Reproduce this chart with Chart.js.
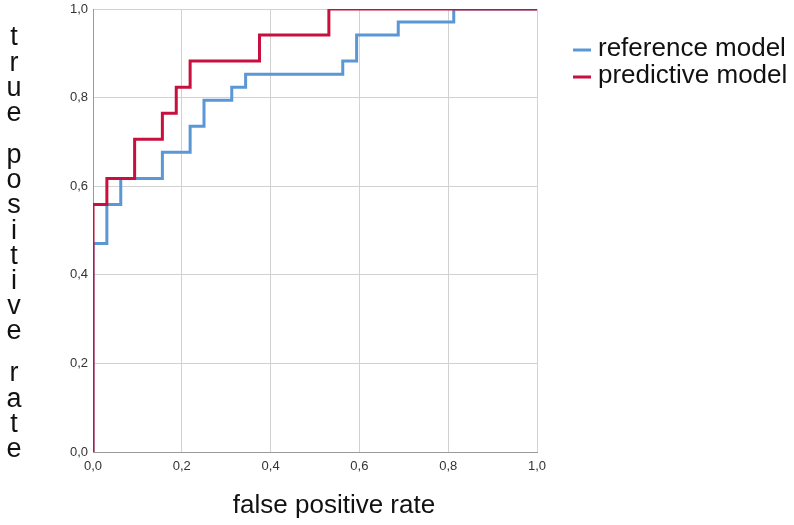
<!DOCTYPE html>
<html><head><meta charset="utf-8">
<script src="https://cdn.jsdelivr.net/npm/chart.js@4/dist/chart.umd.min.js"></script>
<style>html,body{margin:0;padding:0;background:#fff}#wrap{width:794px;height:525px;position:relative}</style>
</head><body><div id="wrap"><canvas id="c" width="794" height="525"></canvas></div>
<script>
const seriesNames = ['reference model', 'predictive model'];
// ROC curve corner points (false positive rate, true positive rate)
const refFPR  = [0, 0, 0.03125, 0.03125, 0.0625, 0.0625, 0.15625, 0.15625, 0.21875, 0.21875, 0.25, 0.25, 0.3125, 0.3125, 0.34375, 0.34375, 0.5625, 0.5625, 0.59375, 0.59375, 0.6875, 0.6875, 0.8125, 0.8125, 1.0];
const refTPR  = [0, 0.4706, 0.4706, 0.5588, 0.5588, 0.6176, 0.6176, 0.6765, 0.6765, 0.7353, 0.7353, 0.7941, 0.7941, 0.8235, 0.8235, 0.8529, 0.8529, 0.8824, 0.8824, 0.9412, 0.9412, 0.9706, 0.9706, 1.0, 1.0];
const predFPR = [0, 0, 0.03125, 0.03125, 0.09375, 0.09375, 0.15625, 0.15625, 0.1875, 0.1875, 0.21875, 0.21875, 0.375, 0.375, 0.53125, 0.53125, 1.0];
const predTPR = [0, 0.5588, 0.5588, 0.6176, 0.6176, 0.7059, 0.7059, 0.7647, 0.7647, 0.8235, 0.8235, 0.8824, 0.8824, 0.9412, 0.9412, 1.0, 1.0];
const tickValues = [0, 0.2, 0.4, 0.6, 0.8, 1.0];
const xTitle = 'false positive rate';
const yTitle = 'true positive rate';

const seriesColors = ['#5b97d5', '#c8103e'];
const FONT = '"Liberation Sans", Arial, sans-serif';
const toPts = (xs, ys) => xs.map((x, i) => ({ x: x, y: ys[i] }));
const fmt = v => Number(v).toFixed(1).replace('.', ',');

const labelsPlugin = {
  id: 'customLabels',
  afterDraw(chart) {
    const ctx = chart.ctx;
    ctx.save();
    ctx.fillStyle = '#111';
    ctx.font = '26px ' + FONT;
    ctx.textAlign = 'center';
    ctx.textBaseline = 'middle';
    ctx.fillText(xTitle, 334, 506);
    ctx.font = '27px ' + FONT;
    let y = 38;
    for (const ch of yTitle) {
      if (ch === ' ') { y += 16.8; continue; }
      ctx.fillText(ch, 14, y);
      y += 25.2;
    }
    // legend
    ctx.font = '26px ' + FONT;
    const rows = [49, 76];
    chart.data.datasets.forEach((ds, i) => {
      ctx.strokeStyle = ds.borderColor;
      ctx.lineWidth = 3;
      ctx.beginPath();
      ctx.moveTo(573, rows[i] + 1);
      ctx.lineTo(591, rows[i] + 1);
      ctx.stroke();
      ctx.textAlign = 'left';
      ctx.fillText(ds.label, 598, rows[i]);
    });
    ctx.restore();
  }
};

const axisCommon = {
  type: 'linear', min: 0, max: 1,
  afterBuildTicks: s => { s.ticks = tickValues.map(v => ({ value: v })); },
  ticks: { callback: v => fmt(v), color: '#333', font: { size: 13, family: FONT } },
  grid: { color: '#d2d2d2', lineWidth: 1, drawTicks: false },
  border: { color: '#9a9a9a', width: 1 }
};

new Chart(document.getElementById('c'), {
  type: 'scatter',
  data: {
    datasets: [
      { label: seriesNames[0], data: toPts(refFPR, refTPR), borderColor: seriesColors[0], backgroundColor: seriesColors[0], showLine: true, pointRadius: 0, borderWidth: 3, tension: 0, fill: false, order: 1, borderJoinStyle: 'miter' },
      { label: seriesNames[1], data: toPts(predFPR, predTPR), borderColor: seriesColors[1], backgroundColor: seriesColors[1], showLine: true, pointRadius: 0, borderWidth: 3, tension: 0, fill: false, order: 0, borderJoinStyle: 'miter' }
    ]
  },
  options: {
    responsive: false, animation: false, devicePixelRatio: 1,
    layout: { padding: { top: 9, right: 257, bottom: 0, left: 0 } },
    plugins: { legend: { display: false }, tooltip: { enabled: false } },
    scales: {
      x: Object.assign({}, axisCommon, {
        ticks: Object.assign({}, axisCommon.ticks, { padding: 7, maxRotation: 0 }),
        afterFit: s => { s.height = 73; s.paddingLeft = 0; s.paddingRight = 0; }
      }),
      y: Object.assign({}, axisCommon, {
        ticks: Object.assign({}, axisCommon.ticks, { padding: 5 }),
        afterFit: s => { s.width = 93; s.paddingTop = 0; s.paddingBottom = 0; }
      })
    }
  },
  plugins: [labelsPlugin]
});
</script>
</body></html>
